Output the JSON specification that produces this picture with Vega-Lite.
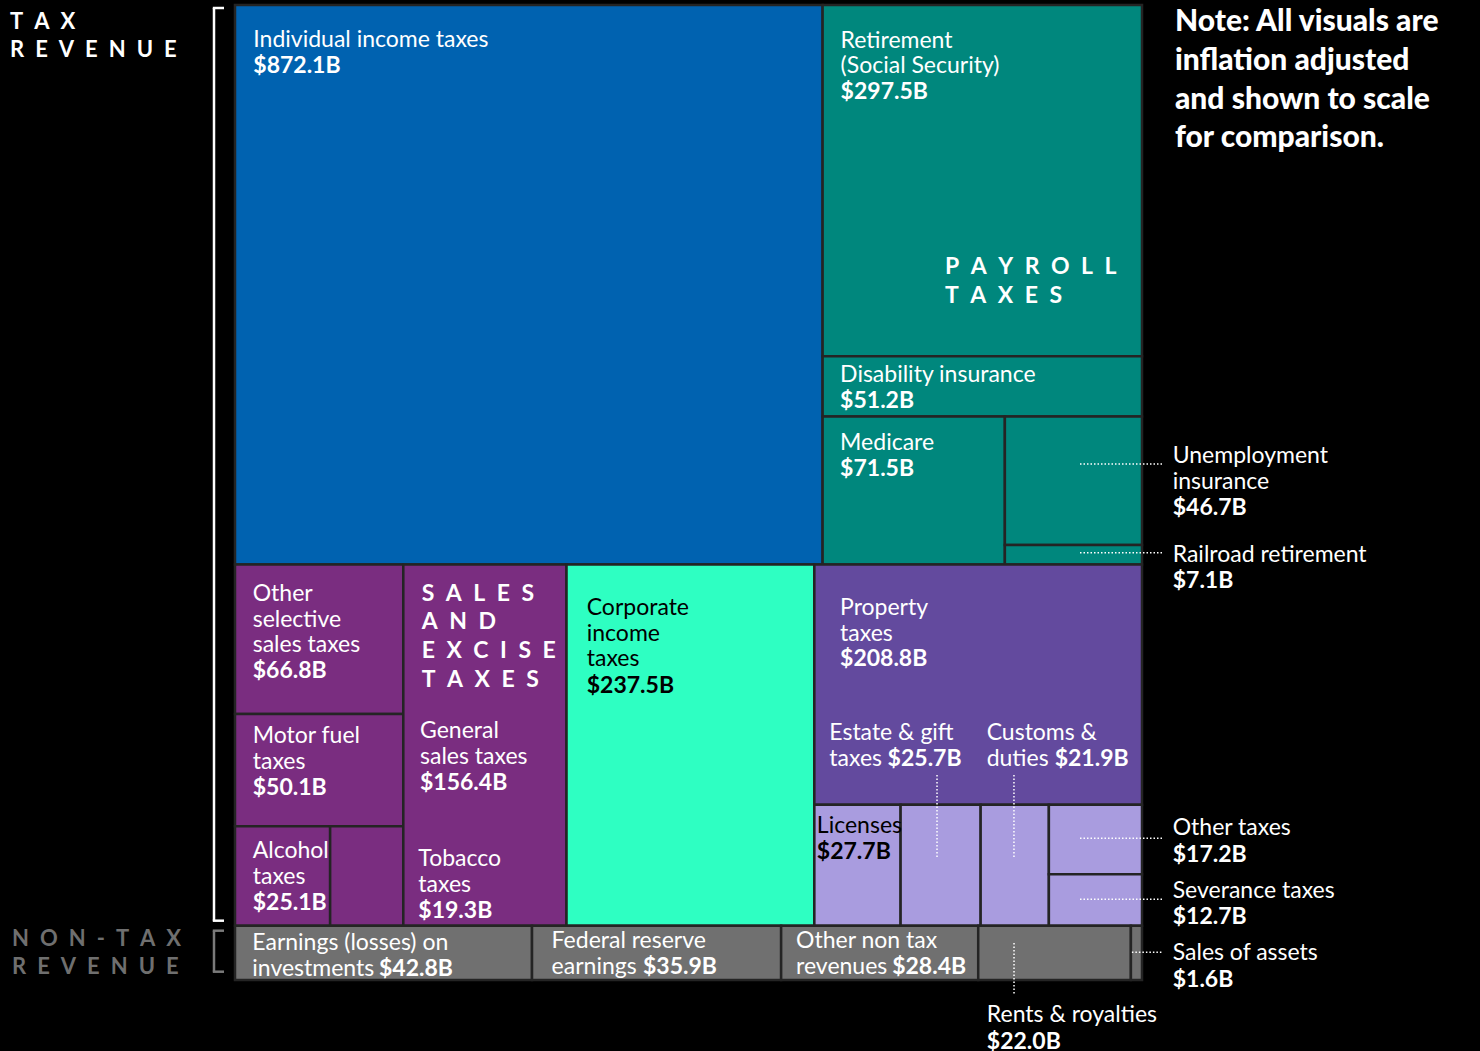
{
"$schema": "https://vega.github.io/schema/vega-lite/v6.json",
"width": 907, "height": 975,
"autosize": {"type": "none"},
"padding": {"left": 235, "top": 5, "right": 338, "bottom": 71},
"background": "#000000",
"config": {"view": {"stroke": null}, "axis": {"disable": true}, "text": {"font": "Lato"}},
"data": {"values": [
{"name":"Individual income taxes","lines":["Individual income taxes"],"value":872.1,"l1":"Tax","l2":"TaxTop","l3":"Individual","l4":"Individual","l5":"Individual","l6":"Individual"},
{"name":"Retirement (Social Security)","lines":["Retirement","(Social Security)"],"value":297.5,"l1":"Tax","l2":"TaxTop","l3":"Payroll","l4":"Retirement","l5":"Retirement","l6":"Retirement"},
{"name":"Disability insurance","lines":["Disability insurance"],"value":51.2,"l1":"Tax","l2":"TaxTop","l3":"Payroll","l4":"Disability","l5":"Disability","l6":"Disability"},
{"name":"Medicare","lines":["Medicare"],"value":71.5,"l1":"Tax","l2":"TaxTop","l3":"Payroll","l4":"PayrollRest","l5":"Medicare","l6":"Medicare"},
{"name":"Unemployment insurance","lines":["Unemployment","insurance"],"value":46.7,"l1":"Tax","l2":"TaxTop","l3":"Payroll","l4":"PayrollRest","l5":"UnempRail","l6":"Unemployment"},
{"name":"Railroad retirement","lines":["Railroad retirement"],"value":7.1,"l1":"Tax","l2":"TaxTop","l3":"Payroll","l4":"PayrollRest","l5":"UnempRail","l6":"Railroad"},
{"name":"Other selective sales taxes","lines":["Other","selective","sales taxes"],"value":66.8,"l1":"Tax","l2":"TaxBottom","l3":"Sales","l4":"SalesLeft","l5":"OtherSelective","l6":"OtherSelective"},
{"name":"Motor fuel taxes","lines":["Motor fuel","taxes"],"value":50.1,"l1":"Tax","l2":"TaxBottom","l3":"Sales","l4":"SalesLeft","l5":"MotorFuel","l6":"MotorFuel"},
{"name":"Alcohol taxes","lines":["Alcohol","taxes"],"value":25.1,"l1":"Tax","l2":"TaxBottom","l3":"Sales","l4":"SalesLeft","l5":"AlcTob","l6":"Alcohol"},
{"name":"Tobacco taxes","lines":["Tobacco","taxes"],"value":19.3,"l1":"Tax","l2":"TaxBottom","l3":"Sales","l4":"SalesLeft","l5":"AlcTob","l6":"Tobacco"},
{"name":"General sales taxes","lines":["General","sales taxes"],"value":156.4,"l1":"Tax","l2":"TaxBottom","l3":"Sales","l4":"General","l5":"General","l6":"General"},
{"name":"Corporate income taxes","lines":["Corporate","income","taxes"],"value":237.5,"l1":"Tax","l2":"TaxBottom","l3":"Corporate","l4":"Corporate","l5":"Corporate","l6":"Corporate"},
{"name":"Property taxes","lines":["Property","taxes"],"value":208.8,"l1":"Tax","l2":"TaxBottom","l3":"OtherTax","l4":"Property","l5":"Property","l6":"Property"},
{"name":"Licenses","lines":["Licenses"],"value":27.7,"l1":"Tax","l2":"TaxBottom","l3":"OtherTax","l4":"SmallTaxes","l5":"Licenses","l6":"Licenses"},
{"name":"Estate & gift taxes","lines":["Estate & gift","taxes"],"value":25.7,"l1":"Tax","l2":"TaxBottom","l3":"OtherTax","l4":"SmallTaxes","l5":"Estate","l6":"Estate"},
{"name":"Customs & duties","lines":["Customs &","duties"],"value":21.9,"l1":"Tax","l2":"TaxBottom","l3":"OtherTax","l4":"SmallTaxes","l5":"Customs","l6":"Customs"},
{"name":"Other taxes","lines":["Other taxes"],"value":17.2,"l1":"Tax","l2":"TaxBottom","l3":"OtherTax","l4":"SmallTaxes","l5":"OtherSev","l6":"OtherTaxes"},
{"name":"Severance taxes","lines":["Severance taxes"],"value":12.7,"l1":"Tax","l2":"TaxBottom","l3":"OtherTax","l4":"SmallTaxes","l5":"OtherSev","l6":"Severance"},
{"name":"Earnings (losses) on investments","lines":["Earnings (losses) on","investments"],"value":42.8,"l1":"NonTax","l2":"NonTaxAll","l3":"Earnings","l4":"Earnings","l5":"Earnings","l6":"Earnings"},
{"name":"Federal reserve earnings","lines":["Federal reserve","earnings"],"value":35.9,"l1":"NonTax","l2":"NonTaxAll","l3":"FedReserve","l4":"FedReserve","l5":"FedReserve","l6":"FedReserve"},
{"name":"Other non tax revenues","lines":["Other non tax","revenues"],"value":28.4,"l1":"NonTax","l2":"NonTaxAll","l3":"OtherNonTax","l4":"OtherNonTax","l5":"OtherNonTax","l6":"OtherNonTax"},
{"name":"Rents & royalties","lines":["Rents & royalties"],"value":22.0,"l1":"NonTax","l2":"NonTaxAll","l3":"Rents","l4":"Rents","l5":"Rents","l6":"Rents"},
{"name":"Sales of assets","lines":["Sales of assets"],"value":1.6,"l1":"NonTax","l2":"NonTaxAll","l3":"SalesAssets","l4":"SalesAssets","l5":"SalesAssets","l6":"SalesAssets"}
]},
"transform": [
{"window":[{"op":"row_number","as":"idx"}]},
{"joinaggregate":[{"op":"sum","field":"value","as":"s1"},{"op":"min","field":"idx","as":"r1"}],"groupby":["l1"]},
{"joinaggregate":[{"op":"sum","field":"value","as":"p1"}]},
{"window":[{"op":"sum","field":"value","as":"c1"}],"sort":[{"field":"r1","order":"ascending"}],"frame":[null,0],"ignorePeers":false},
{"joinaggregate":[{"op":"sum","field":"value","as":"s2"},{"op":"min","field":"idx","as":"r2"}],"groupby":["l2"]},
{"joinaggregate":[{"op":"sum","field":"value","as":"p2"}],"groupby":["l1"]},
{"window":[{"op":"sum","field":"value","as":"c2"}],"sort":[{"field":"r2","order":"ascending"}],"groupby":["l1"],"frame":[null,0],"ignorePeers":false},
{"joinaggregate":[{"op":"sum","field":"value","as":"s3"},{"op":"min","field":"idx","as":"r3"}],"groupby":["l3"]},
{"joinaggregate":[{"op":"sum","field":"value","as":"p3"}],"groupby":["l2"]},
{"window":[{"op":"sum","field":"value","as":"c3"}],"sort":[{"field":"r3","order":"ascending"}],"groupby":["l2"],"frame":[null,0],"ignorePeers":false},
{"joinaggregate":[{"op":"sum","field":"value","as":"s4"},{"op":"min","field":"idx","as":"r4"}],"groupby":["l4"]},
{"joinaggregate":[{"op":"sum","field":"value","as":"p4"}],"groupby":["l3"]},
{"window":[{"op":"sum","field":"value","as":"c4"}],"sort":[{"field":"r4","order":"ascending"}],"groupby":["l3"],"frame":[null,0],"ignorePeers":false},
{"joinaggregate":[{"op":"sum","field":"value","as":"s5"},{"op":"min","field":"idx","as":"r5"}],"groupby":["l5"]},
{"joinaggregate":[{"op":"sum","field":"value","as":"p5"}],"groupby":["l4"]},
{"window":[{"op":"sum","field":"value","as":"c5"}],"sort":[{"field":"r5","order":"ascending"}],"groupby":["l4"],"frame":[null,0],"ignorePeers":false},
{"joinaggregate":[{"op":"sum","field":"value","as":"s6"},{"op":"min","field":"idx","as":"r6"}],"groupby":["l6"]},
{"joinaggregate":[{"op":"sum","field":"value","as":"p6"}],"groupby":["l5"]},
{"window":[{"op":"sum","field":"value","as":"c6"}],"sort":[{"field":"r6","order":"ascending"}],"groupby":["l5"],"frame":[null,0],"ignorePeers":false},
{"calculate":"(datum.c1-datum.s1)/datum.p1","as":"y0_1"},
{"calculate":"datum.c1/datum.p1","as":"y1_1"},
{"calculate":"datum.y0_1+(datum.c2-datum.s2)/datum.p2*(datum.y1_1-datum.y0_1)","as":"y0_2"},
{"calculate":"datum.y0_1+datum.c2/datum.p2*(datum.y1_1-datum.y0_1)","as":"y1_2"},
{"calculate":"(datum.c3-datum.s3)/datum.p3","as":"x0_3"},
{"calculate":"datum.c3/datum.p3","as":"x1_3"},
{"calculate":"datum.l3=='Sales' ? datum.x0_3+(datum.c4-datum.s4)/datum.p4*(datum.x1_3-datum.x0_3) : datum.x0_3","as":"x0_4"},
{"calculate":"datum.l3=='Sales' ? datum.x0_3+datum.c4/datum.p4*(datum.x1_3-datum.x0_3) : datum.x1_3","as":"x1_4"},
{"calculate":"datum.l3=='Sales' ? datum.y0_2 : datum.y0_2+(datum.c4-datum.s4)/datum.p4*(datum.y1_2-datum.y0_2)","as":"y0_4"},
{"calculate":"datum.l3=='Sales' ? datum.y1_2 : datum.y0_2+datum.c4/datum.p4*(datum.y1_2-datum.y0_2)","as":"y1_4"},
{"calculate":"datum.l4!='SalesLeft' ? datum.x0_4+(datum.c5-datum.s5)/datum.p5*(datum.x1_4-datum.x0_4) : datum.x0_4","as":"x0_5"},
{"calculate":"datum.l4!='SalesLeft' ? datum.x0_4+datum.c5/datum.p5*(datum.x1_4-datum.x0_4) : datum.x1_4","as":"x1_5"},
{"calculate":"datum.l4!='SalesLeft' ? datum.y0_4 : datum.y0_4+(datum.c5-datum.s5)/datum.p5*(datum.y1_4-datum.y0_4)","as":"y0_5"},
{"calculate":"datum.l4!='SalesLeft' ? datum.y1_4 : datum.y0_4+datum.c5/datum.p5*(datum.y1_4-datum.y0_4)","as":"y1_5"},
{"calculate":"datum.l5=='AlcTob' ? datum.x0_5+(datum.c6-datum.s6)/datum.p6*(datum.x1_5-datum.x0_5) : datum.x0_5","as":"x0"},
{"calculate":"datum.l5=='AlcTob' ? datum.x0_5+datum.c6/datum.p6*(datum.x1_5-datum.x0_5) : datum.x1_5","as":"x1"},
{"calculate":"datum.l5=='AlcTob' ? datum.y0_5 : datum.y0_5+(datum.c6-datum.s6)/datum.p6*(datum.y1_5-datum.y0_5)","as":"y0"},
{"calculate":"datum.l5=='AlcTob' ? datum.y1_5 : datum.y0_5+datum.c6/datum.p6*(datum.y1_5-datum.y0_5)","as":"y1"},
{"calculate":"datum.l1=='NonTax' ? 'NonTax' : (datum.l4=='SmallTaxes' ? 'Small' : datum.l3)","as":"cat"},
{"calculate":"'$' + format(datum.value, '.1f') + 'B'","as":"amount"}
],
"encoding": {
"x": {"field":"x0","type":"quantitative","scale":{"domain":[0,1]},"axis":null},
"y": {"field":"y0","type":"quantitative","scale":{"domain":[0,1],"reverse":true},"axis":null}
},
"layer": [
{"mark":{"type":"rect","stroke":"#242424","strokeWidth":2.5},
 "encoding":{"x2":{"field":"x1"},"y2":{"field":"y1"},
  "fill":{"field":"cat","type":"nominal","legend":null,"scale":{"domain":["Individual","Payroll","Sales","Corporate","OtherTax","Small","NonTax"],"range":["#0062B0","#00877D","#7A2D80","#2EFFC2","#634A9E","#A99CDF","#707070"]}}}},

{"transform":[{"filter":"datum.l6=='Individual'"}],"mark":{"type":"text","align":"left","baseline":"alphabetic","fontSize":23,"lineHeight":25.6,"fill":"#ffffff","dx":18.3,"dy":41.7},"encoding":{"text":{"field":"lines","type":"nominal"}}},
{"transform":[{"filter":"datum.l6=='Individual'"}],"mark":{"type":"text","align":"left","baseline":"alphabetic","fontSize":23,"fontWeight":"bold","fill":"#ffffff","dx":18.3,"dy":67.7},"encoding":{"text":{"field":"amount","type":"nominal"}}},
{"transform":[{"filter":"datum.l6=='Retirement'"}],"mark":{"type":"text","align":"left","baseline":"alphabetic","fontSize":23,"lineHeight":25.6,"fill":"#ffffff","dx":18,"dy":42.7},"encoding":{"text":{"field":"lines","type":"nominal"}}},
{"transform":[{"filter":"datum.l6=='Retirement'"}],"mark":{"type":"text","align":"left","baseline":"alphabetic","fontSize":23,"fontWeight":"bold","fill":"#ffffff","dx":18,"dy":93.8},"encoding":{"text":{"field":"amount","type":"nominal"}}},
{"transform":[{"filter":"datum.l6=='Disability'"}],"mark":{"type":"text","align":"left","baseline":"alphabetic","fontSize":23,"lineHeight":25.6,"fill":"#ffffff","dx":17.5,"dy":25.4},"encoding":{"text":{"field":"lines","type":"nominal"}}},
{"transform":[{"filter":"datum.l6=='Disability'"}],"mark":{"type":"text","align":"left","baseline":"alphabetic","fontSize":23,"fontWeight":"bold","fill":"#ffffff","dx":17.5,"dy":51.6},"encoding":{"text":{"field":"amount","type":"nominal"}}},
{"transform":[{"filter":"datum.l6=='Medicare'"}],"mark":{"type":"text","align":"left","baseline":"alphabetic","fontSize":23,"lineHeight":25.6,"fill":"#ffffff","dx":17.5,"dy":33},"encoding":{"text":{"field":"lines","type":"nominal"}}},
{"transform":[{"filter":"datum.l6=='Medicare'"}],"mark":{"type":"text","align":"left","baseline":"alphabetic","fontSize":23,"fontWeight":"bold","fill":"#ffffff","dx":17.5,"dy":59},"encoding":{"text":{"field":"amount","type":"nominal"}}},
{"transform":[{"filter":"datum.l6=='Unemployment'"}],"mark":{"type":"text","align":"left","baseline":"alphabetic","fontSize":23,"lineHeight":25.6,"fill":"#ffffff","dx":30.7,"dy":46.8},"encoding":{"x":{"field":"x1","type":"quantitative","scale":{"domain":[0,1]},"axis":null},"text":{"field":"lines","type":"nominal"}}},
{"transform":[{"filter":"datum.l6=='Unemployment'"}],"mark":{"type":"text","align":"left","baseline":"alphabetic","fontSize":23,"fontWeight":"bold","fill":"#ffffff","dx":30.7,"dy":98.2},"encoding":{"x":{"field":"x1","type":"quantitative","scale":{"domain":[0,1]},"axis":null},"text":{"field":"amount","type":"nominal"}}},
{"transform":[{"filter":"datum.l6=='Railroad'"}],"mark":{"type":"text","align":"left","baseline":"alphabetic","fontSize":23,"lineHeight":25.6,"fill":"#ffffff","dx":30.7,"dy":16.6},"encoding":{"x":{"field":"x1","type":"quantitative","scale":{"domain":[0,1]},"axis":null},"text":{"field":"lines","type":"nominal"}}},
{"transform":[{"filter":"datum.l6=='Railroad'"}],"mark":{"type":"text","align":"left","baseline":"alphabetic","fontSize":23,"fontWeight":"bold","fill":"#ffffff","dx":30.7,"dy":42.6},"encoding":{"x":{"field":"x1","type":"quantitative","scale":{"domain":[0,1]},"axis":null},"text":{"field":"amount","type":"nominal"}}},
{"transform":[{"filter":"datum.l6=='OtherSelective'"}],"mark":{"type":"text","align":"left","baseline":"alphabetic","fontSize":23,"lineHeight":25.6,"fill":"#ffffff","dx":17.7,"dy":36.6},"encoding":{"text":{"field":"lines","type":"nominal"}}},
{"transform":[{"filter":"datum.l6=='OtherSelective'"}],"mark":{"type":"text","align":"left","baseline":"alphabetic","fontSize":23,"fontWeight":"bold","fill":"#ffffff","dx":17.7,"dy":114},"encoding":{"text":{"field":"amount","type":"nominal"}}},
{"transform":[{"filter":"datum.l6=='MotorFuel'"}],"mark":{"type":"text","align":"left","baseline":"alphabetic","fontSize":23,"lineHeight":25.6,"fill":"#ffffff","dx":17.7,"dy":29.3},"encoding":{"text":{"field":"lines","type":"nominal"}}},
{"transform":[{"filter":"datum.l6=='MotorFuel'"}],"mark":{"type":"text","align":"left","baseline":"alphabetic","fontSize":23,"fontWeight":"bold","fill":"#ffffff","dx":17.7,"dy":81},"encoding":{"text":{"field":"amount","type":"nominal"}}},
{"transform":[{"filter":"datum.l6=='Alcohol'"}],"mark":{"type":"text","align":"left","baseline":"alphabetic","fontSize":23,"lineHeight":25.6,"fill":"#ffffff","dx":17.7,"dy":32.1},"encoding":{"text":{"field":"lines","type":"nominal"}}},
{"transform":[{"filter":"datum.l6=='Alcohol'"}],"mark":{"type":"text","align":"left","baseline":"alphabetic","fontSize":23,"fontWeight":"bold","fill":"#ffffff","dx":17.7,"dy":83.8},"encoding":{"text":{"field":"amount","type":"nominal"}}},
{"transform":[{"filter":"datum.l6=='Tobacco'"}],"mark":{"type":"text","align":"left","baseline":"alphabetic","fontSize":23,"lineHeight":25.6,"fill":"#ffffff","dx":88.2,"dy":39.8},"encoding":{"text":{"field":"lines","type":"nominal"}}},
{"transform":[{"filter":"datum.l6=='Tobacco'"}],"mark":{"type":"text","align":"left","baseline":"alphabetic","fontSize":23,"fontWeight":"bold","fill":"#ffffff","dx":88.2,"dy":91.3},"encoding":{"text":{"field":"amount","type":"nominal"}}},
{"transform":[{"filter":"datum.l6=='General'"}],"mark":{"type":"text","align":"left","baseline":"alphabetic","fontSize":23,"lineHeight":25.6,"fill":"#ffffff","dx":16.7,"dy":173.9},"encoding":{"text":{"field":"lines","type":"nominal"}}},
{"transform":[{"filter":"datum.l6=='General'"}],"mark":{"type":"text","align":"left","baseline":"alphabetic","fontSize":23,"fontWeight":"bold","fill":"#ffffff","dx":16.7,"dy":225.3},"encoding":{"text":{"field":"amount","type":"nominal"}}},
{"transform":[{"filter":"datum.l6=='Corporate'"}],"mark":{"type":"text","align":"left","baseline":"alphabetic","fontSize":23,"lineHeight":25.6,"fill":"#000000","dx":20.2,"dy":50.6},"encoding":{"text":{"field":"lines","type":"nominal"}}},
{"transform":[{"filter":"datum.l6=='Corporate'"}],"mark":{"type":"text","align":"left","baseline":"alphabetic","fontSize":23,"fontWeight":"bold","fill":"#000000","dx":20.2,"dy":128.5},"encoding":{"text":{"field":"amount","type":"nominal"}}},
{"transform":[{"filter":"datum.l6=='Property'"}],"mark":{"type":"text","align":"left","baseline":"alphabetic","fontSize":23,"lineHeight":25.6,"fill":"#ffffff","dx":25.7,"dy":50.6},"encoding":{"text":{"field":"lines","type":"nominal"}}},
{"transform":[{"filter":"datum.l6=='Property'"}],"mark":{"type":"text","align":"left","baseline":"alphabetic","fontSize":23,"fontWeight":"bold","fill":"#ffffff","dx":25.7,"dy":102},"encoding":{"text":{"field":"amount","type":"nominal"}}},
{"transform":[{"filter":"datum.l6=='Estate'"}],"mark":{"type":"text","align":"left","baseline":"alphabetic","fontSize":23,"lineHeight":25.6,"fill":"#ffffff","dx":-71.3,"dy":-64.7},"encoding":{"text":{"field":"lines","type":"nominal"}}},
{"transform":[{"filter":"datum.l6=='Estate'"}],"mark":{"type":"text","align":"left","baseline":"alphabetic","fontSize":23,"fontWeight":"bold","fill":"#ffffff","dx":-13,"dy":-39.1},"encoding":{"text":{"field":"amount","type":"nominal"}}},
{"transform":[{"filter":"datum.l6=='Customs'"}],"mark":{"type":"text","align":"left","baseline":"alphabetic","fontSize":23,"lineHeight":25.6,"fill":"#ffffff","dx":6,"dy":-64.7},"encoding":{"text":{"field":"lines","type":"nominal"}}},
{"transform":[{"filter":"datum.l6=='Customs'"}],"mark":{"type":"text","align":"left","baseline":"alphabetic","fontSize":23,"fontWeight":"bold","fill":"#ffffff","dx":74,"dy":-39.1},"encoding":{"text":{"field":"amount","type":"nominal"}}},
{"transform":[{"filter":"datum.l6=='Licenses'"}],"mark":{"type":"text","align":"left","baseline":"alphabetic","fontSize":23,"lineHeight":25.6,"fill":"#000000","dx":2.5,"dy":28},"encoding":{"text":{"field":"lines","type":"nominal"}}},
{"transform":[{"filter":"datum.l6=='Licenses'"}],"mark":{"type":"text","align":"left","baseline":"alphabetic","fontSize":23,"fontWeight":"bold","fill":"#000000","dx":2.5,"dy":54},"encoding":{"text":{"field":"amount","type":"nominal"}}},
{"transform":[{"filter":"datum.l6=='OtherTaxes'"}],"mark":{"type":"text","align":"left","baseline":"alphabetic","fontSize":23,"lineHeight":25.6,"fill":"#ffffff","dx":30.7,"dy":30.3},"encoding":{"x":{"field":"x1","type":"quantitative","scale":{"domain":[0,1]},"axis":null},"text":{"field":"lines","type":"nominal"}}},
{"transform":[{"filter":"datum.l6=='OtherTaxes'"}],"mark":{"type":"text","align":"left","baseline":"alphabetic","fontSize":23,"fontWeight":"bold","fill":"#ffffff","dx":30.7,"dy":57},"encoding":{"x":{"field":"x1","type":"quantitative","scale":{"domain":[0,1]},"axis":null},"text":{"field":"amount","type":"nominal"}}},
{"transform":[{"filter":"datum.l6=='Severance'"}],"mark":{"type":"text","align":"left","baseline":"alphabetic","fontSize":23,"lineHeight":25.6,"fill":"#ffffff","dx":30.7,"dy":23.8},"encoding":{"x":{"field":"x1","type":"quantitative","scale":{"domain":[0,1]},"axis":null},"text":{"field":"lines","type":"nominal"}}},
{"transform":[{"filter":"datum.l6=='Severance'"}],"mark":{"type":"text","align":"left","baseline":"alphabetic","fontSize":23,"fontWeight":"bold","fill":"#ffffff","dx":30.7,"dy":50},"encoding":{"x":{"field":"x1","type":"quantitative","scale":{"domain":[0,1]},"axis":null},"text":{"field":"amount","type":"nominal"}}},
{"transform":[{"filter":"datum.l6=='Earnings'"}],"mark":{"type":"text","align":"left","baseline":"alphabetic","fontSize":23,"lineHeight":25.6,"fill":"#ffffff","dx":17.3,"dy":24.3},"encoding":{"text":{"field":"lines","type":"nominal"}}},
{"transform":[{"filter":"datum.l6=='Earnings'"}],"mark":{"type":"text","align":"left","baseline":"alphabetic","fontSize":23,"fontWeight":"bold","fill":"#ffffff","dx":144,"dy":49.9},"encoding":{"text":{"field":"amount","type":"nominal"}}},
{"transform":[{"filter":"datum.l6=='FedReserve'"}],"mark":{"type":"text","align":"left","baseline":"alphabetic","fontSize":23,"lineHeight":25.6,"fill":"#ffffff","dx":19.6,"dy":22.5},"encoding":{"text":{"field":"lines","type":"nominal"}}},
{"transform":[{"filter":"datum.l6=='FedReserve'"}],"mark":{"type":"text","align":"left","baseline":"alphabetic","fontSize":23,"fontWeight":"bold","fill":"#ffffff","dx":111,"dy":48.1},"encoding":{"text":{"field":"amount","type":"nominal"}}},
{"transform":[{"filter":"datum.l6=='OtherNonTax'"}],"mark":{"type":"text","align":"left","baseline":"alphabetic","fontSize":23,"lineHeight":25.6,"fill":"#ffffff","dx":14.9,"dy":22.5},"encoding":{"text":{"field":"lines","type":"nominal"}}},
{"transform":[{"filter":"datum.l6=='OtherNonTax'"}],"mark":{"type":"text","align":"left","baseline":"alphabetic","fontSize":23,"fontWeight":"bold","fill":"#ffffff","dx":111,"dy":48.1},"encoding":{"text":{"field":"amount","type":"nominal"}}},
{"transform":[{"filter":"datum.l6=='Rents'"}],"mark":{"type":"text","align":"left","baseline":"alphabetic","fontSize":23,"lineHeight":25.6,"fill":"#ffffff","dx":8.6,"dy":96.8},"encoding":{"text":{"field":"lines","type":"nominal"}}},
{"transform":[{"filter":"datum.l6=='Rents'"}],"mark":{"type":"text","align":"left","baseline":"alphabetic","fontSize":23,"fontWeight":"bold","fill":"#ffffff","dx":8.6,"dy":123},"encoding":{"text":{"field":"amount","type":"nominal"}}},
{"transform":[{"filter":"datum.l6=='SalesAssets'"}],"mark":{"type":"text","align":"left","baseline":"alphabetic","fontSize":23,"lineHeight":25.6,"fill":"#ffffff","dx":30.7,"dy":34.8},"encoding":{"x":{"field":"x1","type":"quantitative","scale":{"domain":[0,1]},"axis":null},"text":{"field":"lines","type":"nominal"}}},
{"transform":[{"filter":"datum.l6=='SalesAssets'"}],"mark":{"type":"text","align":"left","baseline":"alphabetic","fontSize":23,"fontWeight":"bold","fill":"#ffffff","dx":30.7,"dy":61},"encoding":{"x":{"field":"x1","type":"quantitative","scale":{"domain":[0,1]},"axis":null},"text":{"field":"amount","type":"nominal"}}},

{"transform":[{"filter":"datum.l6=='Retirement'"}],"mark":{"type":"text","align":"left","baseline":"alphabetic","fontSize":23,"fontWeight":"bold","lineHeight":28.7,"fill":"#ffffff","dx":122.4,"dy":269},"encoding":{"text":{"value":["P\u2002A\u2002Y\u2002R\u2002O\u2002L\u2002L","T\u2002A\u2002X\u2002E\u2002S"]}}},
{"transform":[{"filter":"datum.l6=='General'"}],"mark":{"type":"text","align":"left","baseline":"alphabetic","fontSize":23,"fontWeight":"bold","lineHeight":28.7,"fill":"#ffffff","dx":18.4,"dy":36.3},"encoding":{"text":{"value":["S\u2002A\u2002L\u2002E\u2002S","A\u2002N\u2002D","E\u2002X\u2002C\u2002I\u2002S\u2002E","T\u2002A\u2002X\u2002E\u2002S"]}}},
{"transform":[{"filter":"datum.l6=='Individual'"}],"mark":{"type":"text","align":"left","baseline":"alphabetic","fontSize":22,"fontWeight":"bold","lineHeight":28,"fill":"#ffffff","dx":-225,"dy":24.3},"encoding":{"text":{"value":["T\u2002A\u2002X","R\u2002E\u2002V\u2002E\u2002N\u2002U\u2002E"]}}},
{"transform":[{"filter":"datum.l6=='Earnings'"}],"mark":{"type":"text","align":"left","baseline":"alphabetic","fontSize":22,"fontWeight":"bold","lineHeight":28.3,"fill":"#6f6f6f","dx":-223,"dy":20},"encoding":{"text":{"value":["N\u2002O\u2002N\u2002-\u2002T\u2002A\u2002X","R\u2002E\u2002V\u2002E\u2002N\u2002U\u2002E"]}}},
{"transform":[{"filter":"datum.l6=='Individual'"}],"mark":{"type":"text","align":"left","baseline":"alphabetic","fontSize":30,"fontWeight":900,"lineHeight":38.7,"fill":"#ffffff","dx":33,"dy":26.3},"encoding":{"x":{"datum":1,"type":"quantitative","scale":{"domain":[0,1]},"axis":null},"text":{"value":["Note: All visuals are","inflation adjusted","and shown to scale","for comparison."]}}},

{"transform":[{"aggregate":[{"op":"min","field":"x0","as":"gx"},{"op":"min","field":"y0","as":"gy0"},{"op":"max","field":"y1","as":"gy1"}],"groupby":["l1"]},{"filter":"datum.l1=='Tax'"}],
 "layer":[
  {"mark":{"type":"rule","stroke":"#ffffff","strokeWidth":2.5,"xOffset":-21,"yOffset":3,"y2Offset":-5},"encoding":{"x":{"field":"gx","type":"quantitative","scale":{"domain":[0,1]},"axis":null},"y":{"field":"gy0","type":"quantitative","scale":{"domain":[0,1],"reverse":true},"axis":null},"y2":{"field":"gy1"}}},
  {"mark":{"type":"rule","stroke":"#ffffff","strokeWidth":2.5,"xOffset":-22.2,"x2Offset":-11,"yOffset":3},"encoding":{"x":{"field":"gx","type":"quantitative","scale":{"domain":[0,1]},"axis":null},"x2":{"field":"gx"},"y":{"field":"gy0","type":"quantitative","scale":{"domain":[0,1],"reverse":true},"axis":null}}},
  {"mark":{"type":"rule","stroke":"#ffffff","strokeWidth":2.5,"xOffset":-22.2,"x2Offset":-11,"yOffset":-5},"encoding":{"x":{"field":"gx","type":"quantitative","scale":{"domain":[0,1]},"axis":null},"x2":{"field":"gx"},"y":{"field":"gy1","type":"quantitative","scale":{"domain":[0,1],"reverse":true},"axis":null}}}
 ]},
{"transform":[{"aggregate":[{"op":"min","field":"x0","as":"gx"},{"op":"min","field":"y0","as":"gy0"},{"op":"max","field":"y1","as":"gy1"}],"groupby":["l1"]},{"filter":"datum.l1=='NonTax'"}],
 "layer":[
  {"mark":{"type":"rule","stroke":"#7a7a7a","strokeWidth":2.5,"xOffset":-21,"yOffset":5,"y2Offset":-8.3},"encoding":{"x":{"field":"gx","type":"quantitative","scale":{"domain":[0,1]},"axis":null},"y":{"field":"gy0","type":"quantitative","scale":{"domain":[0,1],"reverse":true},"axis":null},"y2":{"field":"gy1"}}},
  {"mark":{"type":"rule","stroke":"#7a7a7a","strokeWidth":2.5,"xOffset":-22.2,"x2Offset":-11,"yOffset":5},"encoding":{"x":{"field":"gx","type":"quantitative","scale":{"domain":[0,1]},"axis":null},"x2":{"field":"gx"},"y":{"field":"gy0","type":"quantitative","scale":{"domain":[0,1],"reverse":true},"axis":null}}},
  {"mark":{"type":"rule","stroke":"#7a7a7a","strokeWidth":2.5,"xOffset":-22.2,"x2Offset":-11,"yOffset":-8.3},"encoding":{"x":{"field":"gx","type":"quantitative","scale":{"domain":[0,1]},"axis":null},"x2":{"field":"gx"},"y":{"field":"gy1","type":"quantitative","scale":{"domain":[0,1],"reverse":true},"axis":null}}}
 ]},

{"transform":[{"filter":"datum.l6=='Unemployment'"}],"mark":{"type":"rule","stroke":"#ffffff","strokeWidth":1.5,"strokeDash":[1.5,2],"xOffset":-62,"x2Offset":21,"yOffset":47.5},"encoding":{"x":{"field":"x1","type":"quantitative","scale":{"domain":[0,1]},"axis":null},"x2":{"field":"x1"}}},
{"transform":[{"filter":"datum.l6=='Railroad'"}],"mark":{"type":"rule","stroke":"#ffffff","strokeWidth":1.5,"strokeDash":[1.5,2],"xOffset":-62,"x2Offset":21,"yOffset":7.8},"encoding":{"x":{"field":"x1","type":"quantitative","scale":{"domain":[0,1]},"axis":null},"x2":{"field":"x1"}}},
{"transform":[{"filter":"datum.l6=='OtherTaxes'"}],"mark":{"type":"rule","stroke":"#ffffff","strokeWidth":1.5,"strokeDash":[1.5,2],"xOffset":-62,"x2Offset":21,"yOffset":33.5},"encoding":{"x":{"field":"x1","type":"quantitative","scale":{"domain":[0,1]},"axis":null},"x2":{"field":"x1"}}},
{"transform":[{"filter":"datum.l6=='Severance'"}],"mark":{"type":"rule","stroke":"#ffffff","strokeWidth":1.5,"strokeDash":[1.5,2],"xOffset":-62,"x2Offset":21,"yOffset":25},"encoding":{"x":{"field":"x1","type":"quantitative","scale":{"domain":[0,1]},"axis":null},"x2":{"field":"x1"}}},
{"transform":[{"filter":"datum.l6=='SalesAssets'"}],"mark":{"type":"rule","stroke":"#ffffff","strokeWidth":1.5,"strokeDash":[1.5,2],"xOffset":1,"x2Offset":21,"yOffset":26.6},"encoding":{"x2":{"field":"x1"}}},
{"transform":[{"filter":"datum.l6=='Rents'"}],"mark":{"type":"rule","stroke":"#ffffff","strokeWidth":1.5,"strokeDash":[1.5,2],"xOffset":35.8,"yOffset":17.3,"y2Offset":15},"encoding":{"y2":{"field":"y1"}}},
{"transform":[{"filter":"datum.l6=='Estate'"}],"mark":{"type":"rule","stroke":"#ffffff","strokeWidth":1.5,"strokeDash":[1.5,2],"xOffset":36.4,"yOffset":-29.7,"y2Offset":52.3},"encoding":{"y2":{"field":"y0"}}},
{"transform":[{"filter":"datum.l6=='Customs'"}],"mark":{"type":"rule","stroke":"#ffffff","strokeWidth":1.5,"strokeDash":[1.5,2],"xOffset":33.3,"yOffset":-29.7,"y2Offset":52.3},"encoding":{"y2":{"field":"y0"}}}
]
}
